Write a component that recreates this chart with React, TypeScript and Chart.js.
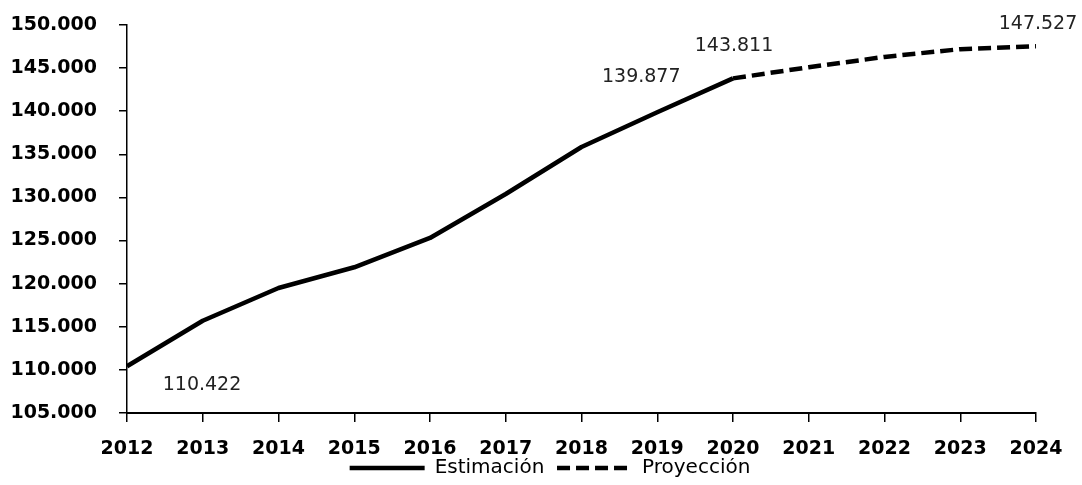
import React, { useEffect, useRef } from "react";
import { Chart, registerables } from "chart.js";

Chart.register(...registerables);

const years = ["2012", "2013", "2014", "2015", "2016", "2017", "2018", "2019", "2020", "2021", "2022", "2023", "2024"];
const estimacion = [110422, 115700, 119500, 121900, 125300, 130400, 135850, 139877, 143811, null, null, null, null];
const proyeccion = [null, null, null, null, null, null, null, null, 143811, 145100, 146300, 147200, 147527];
const seriesNames = ["Estimación", "Proyección"];
const yMin = 105000;
const yMax = 150000;
const yStep = 5000;

// which points get a value label, and where the label sits relative to the point
const valueLabels = [
  { ds: 0, idx: 0, dx: 75, dy: 19 },
  { ds: 0, idx: 7, dx: -16, dy: -35 },
  { ds: 0, idx: 8, dx: 1, dy: -32 },
  { ds: 1, idx: 12, dx: 2, dy: -22 },
];

const fmt = (v: number) => String(Math.round(v)).replace(/\B(?=(\d{3})+(?!\d))/g, ".");

const labelPlugin = {
  id: "valueLabels",
  afterLayout(chart: any) {
    // centre the legend row like the original
    if (chart.legend) {
      chart.legend.left += 32;
      chart.legend.right += 32;
    }
  },
  afterDatasetsDraw(chart: any) {
    const ctx = chart.ctx;
    ctx.save();
    ctx.font = "19px 'DejaVu Sans'";
    ctx.fillStyle = "#222";
    ctx.textAlign = "center";
    ctx.textBaseline = "middle";
    for (const l of valueLabels) {
      const meta = chart.getDatasetMeta(l.ds);
      const el = meta.data[l.idx];
      const v = chart.data.datasets[l.ds].data[l.idx];
      if (!el || v == null) continue;
      ctx.fillText(fmt(v), el.x + l.dx, el.y + l.dy);
    }
    ctx.restore();
  },
};

export default function App() {
  const ref = useRef<HTMLCanvasElement | null>(null);
  useEffect(() => {
    if (!ref.current) return;
    const tickFont = { family: "'DejaVu Sans'", size: 19, weight: "bold" as const };
    const chart = new Chart(ref.current, {
      type: "line",
      data: {
        labels: years,
        datasets: [
          {
            label: seriesNames[0],
            data: estimacion,
            borderColor: "#000",
            backgroundColor: "#000",
            borderWidth: 4.5,
            pointRadius: 0,
            tension: 0,
            borderJoinStyle: "round",
            spanGaps: false,
          },
          {
            label: seriesNames[1],
            data: proyeccion,
            borderColor: "#000",
            backgroundColor: "#000",
            borderWidth: 4.5,
            borderDash: [13, 6],
            pointRadius: 0,
            tension: 0,
            spanGaps: false,
          },
        ],
      },
      options: {
        animation: false,
        responsive: true,
        maintainAspectRatio: false,
        layout: { padding: { left: 0, right: 46, top: 25, bottom: -3 } },
        scales: {
          x: {
            offset: false,
            grid: { drawOnChartArea: false, drawTicks: true, tickLength: 9, color: "#000", lineWidth: 1.5 },
            border: { color: "#000", width: 2 },
            ticks: { color: "#000", font: tickFont, padding: 16, maxRotation: 0, autoSkip: false },
            afterFit: (s: any) => {
              s.height = 45;
            },
          },
          y: {
            min: yMin,
            max: yMax,
            grid: { drawOnChartArea: false, drawTicks: true, tickLength: 8, color: "#000", lineWidth: 1.5 },
            border: { color: "#000", width: 1.5 },
            ticks: {
              stepSize: yStep,
              color: "#000",
              font: tickFont,
              padding: 22,
              callback: (v: any) => fmt(Number(v)),
            },
            afterFit: (s: any) => {
              s.width = 127;
              s.paddingTop = 0;
              s.paddingBottom = 0;
            },
          },
        },
        plugins: {
          legend: {
            position: "bottom",
            labels: {
              usePointStyle: true,
              pointStyle: "line",
              pointStyleWidth: 75,
              color: "#000",
              font: { family: "'DejaVu Sans'", size: 20 },
              padding: 0,
              generateLabels: (c: any) =>
                c.data.datasets.map((ds: any, i: number) => ({
                  text: i === 0 ? ds.label + "\u00A0\u00A0" : ds.label,
                  fillStyle: ds.borderColor,
                  strokeStyle: ds.borderColor,
                  lineWidth: ds.borderWidth,
                  lineDash: ds.borderDash || [],
                  lineCap: "butt",
                  pointStyle: "line",
                  hidden: false,
                  datasetIndex: i,
                  fontColor: "#000",
                })),
            },
          },
          tooltip: { enabled: false },
        },
      },
      plugins: [labelPlugin],
    });
    return () => chart.destroy();
  }, []);
  return (
    <div style={{ position: "fixed", left: 0, top: 0, width: 1082, height: 485, background: "#fff" }}>
      <canvas ref={ref} />
    </div>
  );
}
